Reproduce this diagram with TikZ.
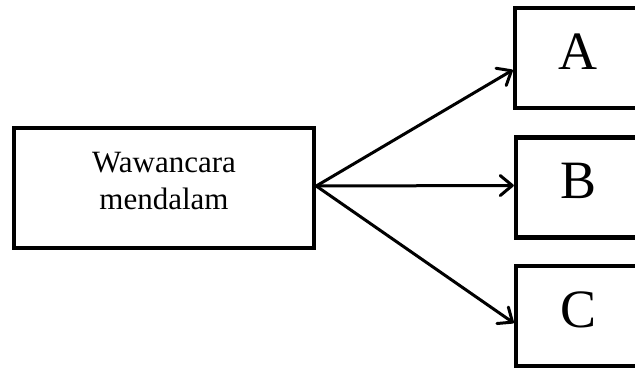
\documentclass[tikz,border=0pt]{standalone}
\usepackage{fontspec}
\setmainfont{Liberation Serif}
\usetikzlibrary{arrows.meta}

\tikzset{
  mainbox/.style={draw, line width=4.5pt, minimum width=300pt, minimum height=120pt,
    align=center, font=\fontsize{31}{37}\selectfont, text depth=14pt},
  letterbox/.style={draw, line width=4.5pt, minimum width=126pt, minimum height=100pt,
    inner sep=0pt, font=\fontsize{54}{60}\selectfont, text height=36pt, text depth=14pt},
  link/.style={line width=3pt, line cap=round, -{Straight Barb[length=12pt, width=20pt, round]}}
}

\begin{document}
\begin{tikzpicture}[x=1pt, y=-1pt]
  \useasboundingbox (0,0) rectangle (635,370);
  % source box
  \node[mainbox] (wawancara) at (164,188) {Wawancara\\mendalam};
  % result boxes (cut by the right edge)
  \node[letterbox] (A) at (578,58) {A};
  \node[letterbox] (B) at (579,187.5) {B};
  \node[letterbox] (C) at (579,316) {C};
  % arrows
  \draw[link] ([yshift=2pt]wawancara.east) -- ([yshift=-12pt]A.west);
  \draw[link] ([yshift=2pt]wawancara.east) -- ([yshift=2pt]B.west);
  \draw[link] ([yshift=2pt]wawancara.east) -- ([yshift=-7pt]C.west);
\end{tikzpicture}
\end{document}
